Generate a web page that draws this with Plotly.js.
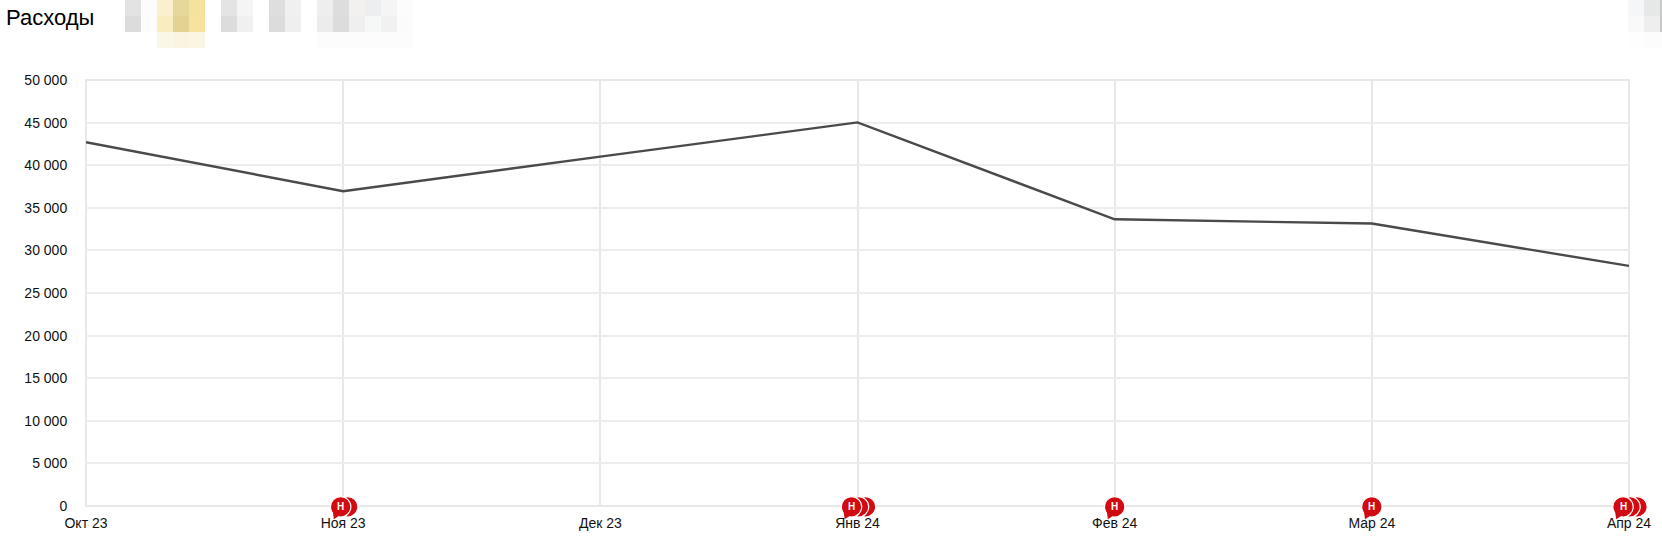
<!DOCTYPE html>
<html><head><meta charset="utf-8">
<script src="https://cdn.plot.ly/plotly-3.0.1.min.js"></script>
<style>html,body{margin:0;padding:0;background:#fff;overflow:hidden}#c{width:1662px;height:544px}</style>
</head><body><div id="c"></div>
<script>
const months = ['Окт 23','Ноя 23','Дек 23','Янв 24','Фев 24','Мар 24','Апр 24'];
const expenses = [42700, 36950, 41000, 45020, 33650, 33150, 28180];
const noteCounts = [0, 2, 0, 3, 1, 1, 3];
const yTicks = [0,5000,10000,15000,20000,25000,30000,35000,40000,45000,50000];
const yLabels = ['0','5 000','10 000','15 000','20 000','25 000','30 000','35 000','40 000','45 000','50 000'];
const titleText = 'Расходы';
const noteLabel = 'Н';

// Pixelated (redacted) header blocks: column left edge, then colours per 16px row
const mosaicColumns = [
  [125,'#e3e3e3','#dcdcdc',null],[141,'#fcfcfc','#fcfcfc',null],
  [157,'#faf0cd','#f9edc0','#fbf7e6'],[173,'#e6d79a','#e2d293','#faf5e0'],[189,'#f5e29f','#f6e39f','#fbf6e4'],
  [221,'#e4e4e4','#dcdcdc',null],[237,'#f5f5f5','#f0f0f0',null],
  [269,'#dedede','#dcdcdc',null],[285,'#f0f0f0','#efefef',null],
  [317,'#eeeeee','#ececec','#fcfcfc'],[333,'#dddddd','#dcdcdc','#fcfcfc'],[349,'#f2f1ef','#efefef','#fcfcfc'],
  [365,'#eceef0','#f6f7f7','#fcfcfc'],[381,'#f5f5f5','#f1f1f1','#fcfcfc'],[397,'#fcfcfc','#fbfbfb','#fcfcfc'],
  [1628,'#f4f6f8','#f9f9f9','#fefefe'],[1644,'#e6e8e8','#eeeeee','#fcfcfc'],[1660,'#c8c8c8','#c8c8c8','#fcfcfc']
];

const W=1662,H=544,L=86,R=33,T=80,B=38;
const PW=W-L-R, PH=H-T-B;
const fx=p=>(p-L)/PW, fy=p=>(H-B-p)/PH;

const shapes=[{type:'rect',xref:'paper',yref:'paper',layer:'below',x0:0,x1:1,y0:0,y1:1,
  fillcolor:'rgba(0,0,0,0)',line:{color:'#e8e8e8',width:2}}];
mosaicColumns.forEach(c=>{
  [1,2,3].forEach(r=>{
    if(!c[r])return;
    shapes.push({type:'rect',xref:'paper',yref:'paper',layer:'below',
      x0:fx(c[0]),x1:fx(Math.min(c[0]+16,W)),y0:fy((r-1)*16),y1:fy(r*16),
      fillcolor:c[r],line:{width:0}});
  });
});

// Note bubbles anchored to the axis positions, sized in pixels; back layers first
const RED='#d20a11', STEP=7, RAD=10.2, CY=-0.8;
function circlePath(cx,cy,r){
  const k=0.5523*r;
  return `M${cx+r},${cy} C${cx+r},${cy+k} ${cx+k},${cy+r} ${cx},${cy+r} `+
         `C${cx-k},${cy+r} ${cx-r},${cy+k} ${cx-r},${cy} `+
         `C${cx-r},${cy-k} ${cx-k},${cy-r} ${cx},${cy-r} `+
         `C${cx+k},${cy-r} ${cx+r},${cy-k} ${cx+r},${cy} Z`;
}
function tailPath(cx,cy){
  return `M${cx-8},${cy-4} L${cx-6.8},${cy-12.5} L${cx},${cy-8} Z`;
}
const annotations=[{text:titleText,xref:'paper',yref:'paper',x:fx(5),y:fy(18),xanchor:'left',yanchor:'middle',
  showarrow:false,borderpad:0,font:{family:'Liberation Sans, Arial, sans-serif',size:22,color:'#000000'}}];
noteCounts.forEach((n,i)=>{
  for(let k=n-1;k>=0;k--){
    const dx=(k-(n-1)/2)*STEP+(n>1?1:0);
    const base={type:'path',layer:'above',xref:'paper',yref:'paper',xsizemode:'pixel',ysizemode:'pixel',
      xanchor:i/(months.length-1),yanchor:0};
    shapes.push(Object.assign({},base,{path:circlePath(dx,CY,RAD),fillcolor:RED,line:{color:'#ffffff',width:1.2}}));
    if(k===0){
      shapes.push(Object.assign({},base,{path:tailPath(dx,CY),fillcolor:RED,line:{width:0}}));
      annotations.push({text:'<b>'+noteLabel+'</b>',xref:'x',yref:'y',x:i,y:0,xshift:dx,yshift:CY,showarrow:false,
        xanchor:'center',yanchor:'middle',borderpad:0,
        font:{family:'Liberation Sans, Arial, sans-serif',size:10,color:'#ffffff'}});
    }
  }
});

const traces=[{
  x:months.map((m,i)=>i), y:expenses, mode:'lines', type:'scatter',
  line:{color:'#4b4949',width:2.4,shape:'linear'}, hoverinfo:'x+y', showlegend:false, cliponaxis:false
}];

const tickFont={family:'Liberation Sans, Arial, sans-serif',size:14,color:'#111111'};
const NOTICK='rgba(0,0,0,0)';
const layout={
  width:W,height:H,margin:{l:L,r:R,t:T,b:B,pad:0},
  paper_bgcolor:'#ffffff',plot_bgcolor:'#ffffff',showlegend:false,
  xaxis:{type:'linear',range:[0,6],tickmode:'array',tickvals:months.map((m,i)=>i),ticktext:months,
    showgrid:true,gridcolor:'#e8e8e8',gridwidth:2,zeroline:false,showline:false,
    ticks:'outside',ticklen:4,tickcolor:NOTICK,tickfont:tickFont,fixedrange:true},
  yaxis:{type:'linear',range:[0,50000],tickmode:'array',tickvals:yTicks,ticktext:yLabels,
    showgrid:true,gridcolor:'#ededed',gridwidth:1.5,zeroline:false,showline:false,
    ticks:'outside',ticklen:15,tickcolor:NOTICK,tickfont:tickFont,fixedrange:true},
  shapes:shapes,
  annotations:annotations
};
Plotly.newPlot('c',traces,layout,{displayModeBar:false});
</script></body></html>
